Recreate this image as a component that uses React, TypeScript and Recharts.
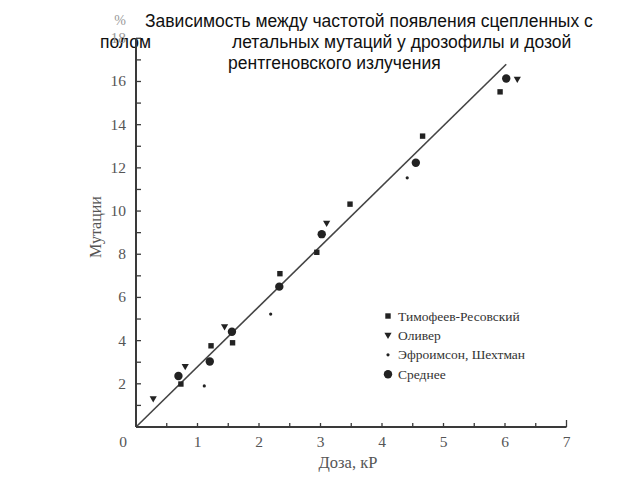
import React from 'react';
import { ScatterChart, Scatter, XAxis, YAxis, ReferenceLine, Customized } from 'recharts';

// Тимофеев-Ресовский (squares)
const timofeev = [
  { x: 0.73, y: 1.99 }, { x: 1.22, y: 3.76 }, { x: 1.57, y: 3.9 }, { x: 2.34, y: 7.1 },
  { x: 2.94, y: 8.09 }, { x: 3.48, y: 10.32 }, { x: 4.66, y: 13.47 }, { x: 5.92, y: 15.52 },
];
// Оливер (triangles)
const oliver = [
  { x: 0.28, y: 1.3 }, { x: 0.8, y: 2.8 }, { x: 1.44, y: 4.64 }, { x: 3.1, y: 9.43 }, { x: 6.2, y: 16.1 },
];
// Эфроимсон, Шехтман (small dots)
const efroimson = [
  { x: 1.11, y: 1.9 }, { x: 2.19, y: 5.23 }, { x: 4.41, y: 11.54 },
];
// Среднее (large circles)
const average = [
  { x: 0.69, y: 2.36 }, { x: 1.2, y: 3.03 }, { x: 1.56, y: 4.41 }, { x: 2.33, y: 6.5 },
  { x: 3.02, y: 8.93 }, { x: 4.55, y: 12.24 }, { x: 6.02, y: 16.14 },
];
const regressionLine = [{ x: 0, y: 0 }, { x: 6.02, y: 16.8 }];

const xTicks = [0, 0.5, 1, 1.5, 2, 2.5, 3, 3.5, 4, 4.5, 5, 5.5, 6, 6.5, 7];
const yTicks = [0, 1, 2, 3, 4, 5, 6, 7, 8, 9, 10, 11, 12, 13, 14, 15, 16, 17, 18];
const yLabelTicks = [2, 4, 6, 8, 10, 12, 14, 16, 18];
const xLabelTicks = [0, 1, 2, 3, 4, 5, 6, 7];

const seriesNames = ['Тимофеев-Ресовский', 'Оливер', 'Эфроимсон, Шехтман', 'Среднее'];
const seriesShapes = ['square', 'triangle', 'dot', 'circle'];

const titleLines = [
  'Зависимость между частотой появления сцепленных с',
  'полом',
  'летальных мутаций у дрозофилы и дозой',
  'рентгеновского излучения',
];

const MARK = '#222';
const AXIS = '#3a3a3a';
const TXT = '#555';
const SERIF = '"Liberation Serif", "DejaVu Serif", serif';
const SANS = '"Liberation Sans", Arial, sans-serif';

const Marker = ({ kind, cx, cy }: { kind: string; cx: number; cy: number }) => {
  if (kind === 'square') return <rect x={cx - 2.7} y={cy - 2.7} width={5.4} height={5.4} fill={MARK} />;
  if (kind === 'triangle')
    return <polygon points={`${cx - 3.6},${cy - 2.6} ${cx + 3.6},${cy - 2.6} ${cx},${cy + 3.6}`} fill={MARK} />;
  if (kind === 'dot') return <circle cx={cx} cy={cy} r={1.6} fill={MARK} />;
  return <circle cx={cx} cy={cy} r={4.2} fill={MARK} />;
};

const shapeFor = (kind: string) => (p: any) => <Marker kind={kind} cx={p.cx} cy={p.cy} />;

const XTick = (props: any) => {
  const { x, y, payload } = props;
  const v = payload.value;
  const len = v === 7 ? 7 : 4;
  return (
    <g>
      {v !== 0 && <line x1={x} x2={x} y1={y} y2={y - len} stroke={AXIS} strokeWidth={1.3} />}
      {xLabelTicks.includes(v) && (
        <text x={v === 0 ? x - 13 : x} y={y + 20} textAnchor="middle" fontFamily={SERIF} fontSize={15.5} fill={TXT}>
          {v}
        </text>
      )}
    </g>
  );
};

const YTick = (props: any) => {
  const { x, y, payload } = props;
  const v = payload.value;
  return (
    <g>
      {v !== 0 && <line x1={x} x2={x + 5} y1={y} y2={y} stroke={AXIS} strokeWidth={1.3} />}
      {yLabelTicks.includes(v) && (
        <text x={x - 10} y={y + 5} textAnchor="end" fontFamily={SERIF} fontSize={15.5} fill={v === 18 ? '#999' : TXT}>
          {v}
        </text>
      )}
    </g>
  );
};

const LegendBlock = () => (
  <g transform="translate(380,305)">
    {seriesNames.map((name, i) => {
      const cy = 11 + i * 19.4;
      return (
        <g key={name}>
          <Marker kind={seriesShapes[i]} cx={8} cy={cy} />
          <text x={18} y={cy + 4.5} fontFamily={SERIF} fontSize={13.5} fill="#333">
            {name}
          </text>
        </g>
      );
    })}
  </g>
);

const Texts = () => (
  <g>
    <LegendBlock />
    <text x={120} y={25} textAnchor="middle" fontFamily={SERIF} fontSize={14} fill="#999">%</text>
    <text x={95} y={227} transform="rotate(-90 95 227)" textAnchor="middle" dominantBaseline="central" fontFamily={SERIF} fontSize={16} fill={TXT}>
      Мутации
    </text>
    <text x={348} y={468} textAnchor="middle" fontFamily={SERIF} fontSize={16.5} fill={TXT}>
      Доза, кР
    </text>
    <g fontFamily={SANS} fontSize={17.5} fill="#111">
      <text x={145} y={27}>{titleLines[0]}</text>
      <text x={100} y={48}>{titleLines[1]}</text>
      <text x={232} y={48}>{titleLines[2]}</text>
      <text x={228} y={69}>{titleLines[3]}</text>
    </g>
  </g>
);

export default function App() {
  return (
    <div style={{ position: 'absolute', left: 0, top: 0, width: 640, height: 480, background: '#fff' }}>
      <ScatterChart width={640} height={480} margin={{ top: 38.3, right: 73.5, bottom: 23, left: 76 }}>
        <XAxis
          type="number"
          dataKey="x"
          domain={[0, 7]}
          ticks={xTicks}
          interval={0}
          tickSize={0}
          tickMargin={0}
          tick={<XTick />}
          axisLine={{ stroke: AXIS, strokeWidth: 2 }}
          tickLine={false}
          height={30}
          allowDataOverflow
        />
        <YAxis
          type="number"
          dataKey="y"
          domain={[0, 18]}
          ticks={yTicks}
          interval={0}
          tickSize={0}
          tickMargin={0}
          tick={<YTick />}
          axisLine={{ stroke: AXIS, strokeWidth: 2 }}
          tickLine={false}
          width={60}
          allowDataOverflow
        />
        <ReferenceLine segment={regressionLine} stroke="#444" strokeWidth={1.6} ifOverflow="visible" />
        <Scatter name={seriesNames[0]} data={timofeev} shape={shapeFor('square')} isAnimationActive={false} />
        <Scatter name={seriesNames[1]} data={oliver} shape={shapeFor('triangle')} isAnimationActive={false} />
        <Scatter name={seriesNames[2]} data={efroimson} shape={shapeFor('dot')} isAnimationActive={false} />
        <Scatter name={seriesNames[3]} data={average} shape={shapeFor('circle')} isAnimationActive={false} />
        <Customized component={<Texts />} />
      </ScatterChart>
    </div>
  );
}
